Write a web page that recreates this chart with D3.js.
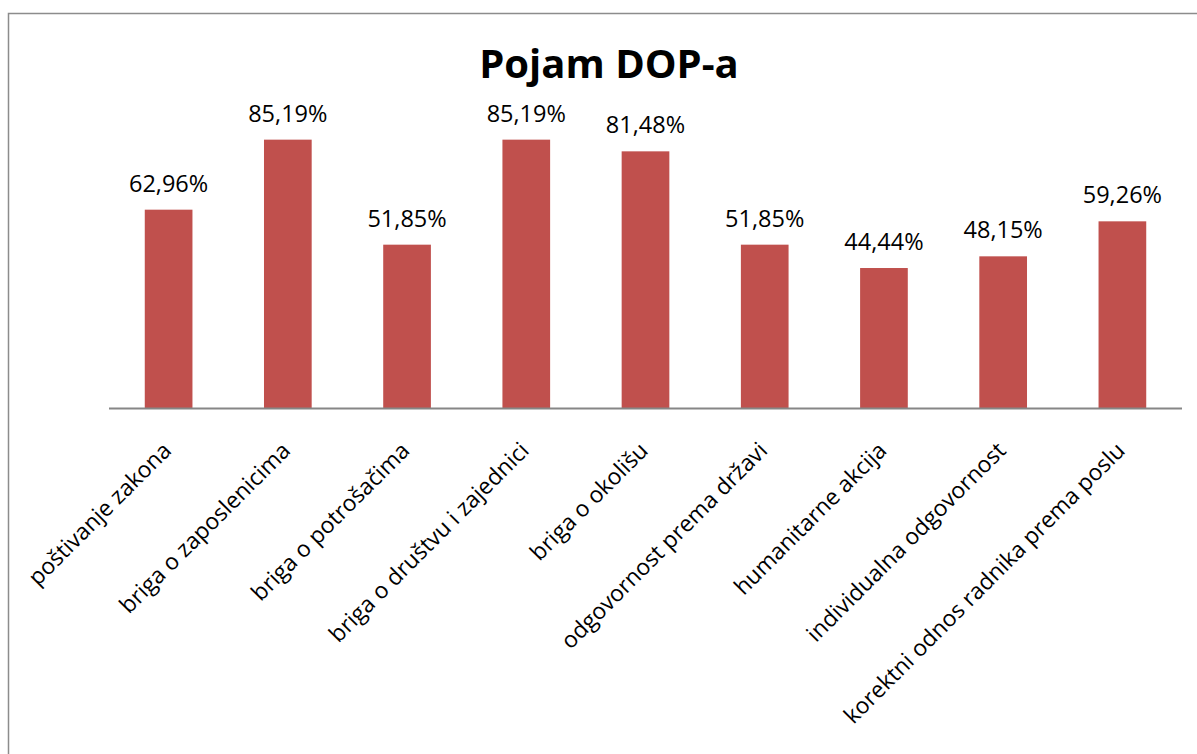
<!DOCTYPE html>
<html>
<head>
<meta charset="utf-8">
<script src="https://cdn.jsdelivr.net/npm/d3@7"></script>
<style>
  body { margin: 0; background: #fff; }
  svg { display: block; }
  text { font-family: "Open Sans", "Noto Sans", sans-serif; fill: #000; }
</style>
</head>
<body>
<svg id="chart" width="1197" height="754"></svg>
<script>
// data
var categories = [
    "poštivanje zakona",
    "briga o zaposlenicima",
    "briga o potrošačima",
    "briga o društvu i zajednici",
    "briga o okolišu",
    "odgovornost prema državi",
    "humanitarne akcija",
    "individualna odgovornost",
    "korektni odnos radnika prema poslu"
];
var values = [62.96, 85.19, 51.85, 85.19, 81.48, 51.85, 44.44, 48.15, 59.26];
var title = "Pojam DOP-a";

var svg = d3.select("#chart");

// outer chart frame (runs off the right / bottom edge)
svg.append("path")
   .attr("d", "M8.5,760 V13.5 H1200")
   .attr("fill", "none")
   .attr("stroke", "#8c8c8c")
   .attr("stroke-width", 1.5);

var plot = { left: 109, right: 1182, top: 93, bottom: 408 };

var x = d3.scaleBand()
    .domain(categories)
    .range([plot.left, plot.right])
    .paddingInner(0.6)
    .paddingOuter(0.3);

var y = d3.scaleLinear()
    .domain([0, 100])
    .range([plot.bottom, plot.top]);

// title
svg.append("text")
   .attr("x", 609)
   .attr("y", 78)
   .attr("text-anchor", "middle")
   .style("font-size", "40px")
   .style("font-weight", "bold")
   .text(title);

// bars
svg.selectAll("rect.bar")
   .data(values)
   .enter().append("rect")
   .attr("class", "bar")
   .attr("x", (d, i) => x(categories[i]))
   .attr("width", x.bandwidth())
   .attr("y", d => y(d))
   .attr("height", d => y(0) - y(d))
   .attr("fill", "#c0504d");

// value labels
svg.selectAll("text.val")
   .data(values)
   .enter().append("text")
   .attr("class", "val")
   .attr("x", (d, i) => x(categories[i]) + x.bandwidth() / 2)
   .attr("y", d => y(d) - 18)
   .attr("text-anchor", "middle")
   .style("font-size", "23.5px")
   .text(d => d.toFixed(2).replace(".", ",") + "%");

// x axis
var xAxis = d3.axisBottom(x).tickSize(0).tickPadding(0);
var gx = svg.append("g")
    .attr("transform", "translate(0," + plot.bottom + ")")
    .call(xAxis);
gx.select(".domain")
  .attr("d", "M" + plot.left + ",0.5H" + plot.right)
  .attr("stroke", "#868686")
  .attr("stroke-width", 2);
gx.selectAll(".tick text")
  .attr("y", 0)
  .attr("dy", 0)
  .attr("text-anchor", "end")
  .attr("transform", "translate(4,44) rotate(-45)")
  .style("font-size", "22.8px")
  .style("font-family", "'Open Sans', 'Noto Sans', sans-serif")
  .attr("fill", "#000");
</script>
</body>
</html>
